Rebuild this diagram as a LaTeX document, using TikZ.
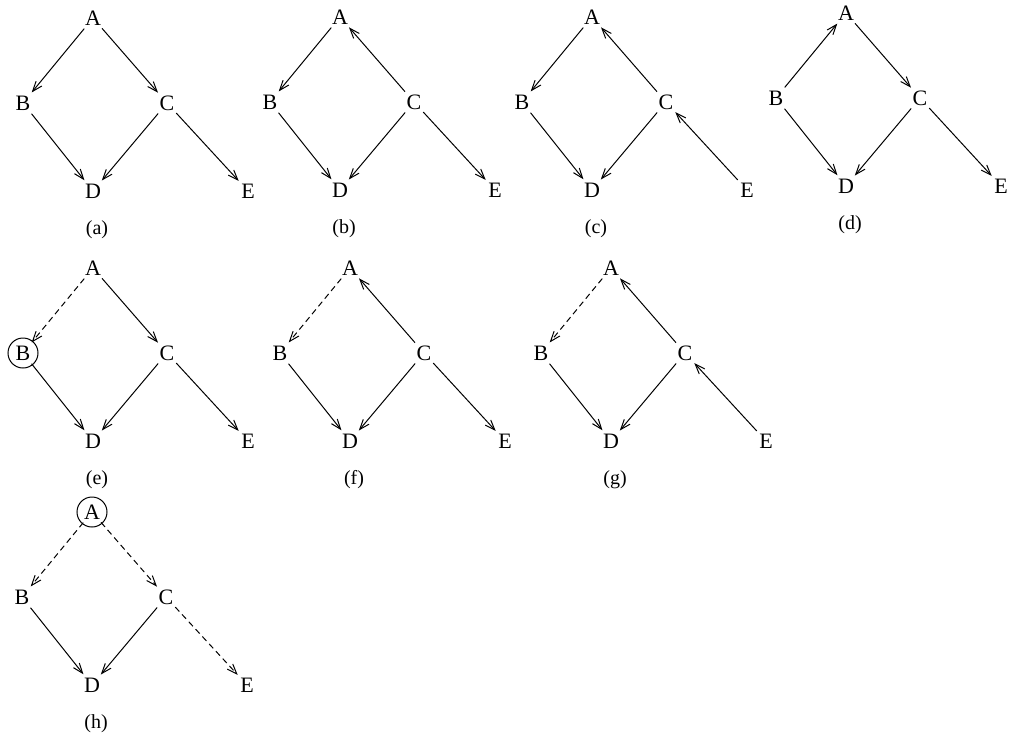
\documentclass[tikz,border=0pt]{standalone}
\usepackage{fontspec}
\setmainfont{Liberation Serif}
\usetikzlibrary{arrows.meta}
\tikzset{
  vtx/.style={circle,inner sep=0pt,minimum size=27pt,font=\fontsize{22}{24}\selectfont},
  sublabel/.style={inner sep=1pt,font=\fontsize{20}{22}\selectfont},
  link/.style={line width=1pt,-{Straight Barb[length=10pt,width=7.5pt]}},
  weaklink/.style={link,dash pattern=on 6pt off 4pt},
  ring/.style={line width=1pt}
}
\begin{document}
\begin{tikzpicture}[x=1pt,y=-1pt]
\useasboundingbox (0,0) rectangle (1012,740);
% the same five vertices in every panel, B->D and C->D always there
\foreach \s/\x/\y in {a/93/18,b/340/17,c/592/17,d/846/13,e/93/268,f/350/268,g/611/268,h/92/512}{
	\node[vtx] (\s A) at (\x,\y) {A};
	\node[vtx] (\s B) at (\x-70,\y+85) {B};
	\node[vtx] (\s C) at (\x+74,\y+85) {C};
	\node[vtx] (\s D) at (\x,\y+173) {D};
	\node[vtx] (\s E) at (\x+155,\y+173) {E};
	\node[sublabel] (\s cap) at (\x+4,\y+212) {(\s)};
	\draw[link] (\s B) -- (\s D);
	\draw[link] (\s C) -- (\s D);}
% (a)
\draw[link] (aA) -- (aB);
\draw[link] (aA) -- (aC);
\draw[link] (aC) -- (aE);
% (b)
\draw[link] (bA) -- (bB);
\draw[link] (bC) -- (bA);
\draw[link] (bC) -- (bE);
% (c)
\draw[link] (cA) -- (cB);
\draw[link] (cC) -- (cA);
\draw[link] (cE) -- (cC);
% (d)
\draw[link] (dB) -- (dA);
\draw[link] (dA) -- (dC);
\draw[link] (dC) -- (dE);
% (e)
\draw[weaklink] (eA) -- (eB);
\draw[link] (eA) -- (eC);
\draw[link] (eC) -- (eE);
\draw[ring] (eB.center) circle[radius=15];
% (f)
\draw[weaklink] (fA) -- (fB);
\draw[link] (fC) -- (fA);
\draw[link] (fC) -- (fE);
% (g)
\draw[weaklink] (gA) -- (gB);
\draw[link] (gC) -- (gA);
\draw[link] (gE) -- (gC);
% (h)
\draw[weaklink] (hA) -- (hB);
\draw[weaklink] (hA) -- (hC);
\draw[weaklink] (hC) -- (hE);
\draw[ring] (hA.center) circle[radius=15];
\end{tikzpicture}
\end{document}
